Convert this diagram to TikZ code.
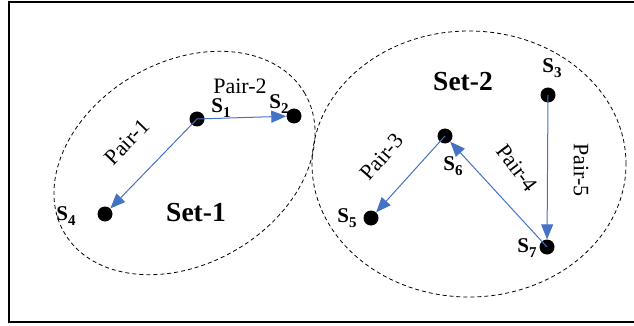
\documentclass[tikz,border=0pt]{standalone}
\usepackage{fontspec}
\setmainfont{Liberation Serif}
\usetikzlibrary{arrows.meta}
\definecolor{arrowblue}{HTML}{4472C4}
\newcommand{\slab}[1]{S\raisebox{-0.25em}{\fontsize{15}{16}\selectfont #1}}
\begin{document}
\begin{tikzpicture}[x=1pt,y=-1pt,
  dot/.style={circle,fill=black,inner sep=0pt,minimum size=15pt},
  slabel/.style={font=\fontsize{21}{23}\selectfont\bfseries,inner sep=0pt},
  pairlabel/.style={font=\fontsize{22}{24}\selectfont,inner sep=0pt},
  setlabel/.style={font=\fontsize{27.5}{30}\selectfont\bfseries,inner sep=0pt},
  setline/.style={draw=black,line width=0.8pt,dash pattern=on 4pt off 3pt},
  pairarrow/.style={draw=arrowblue,line width=1pt,-{Triangle[length=15pt,width=12pt]}}]
\useasboundingbox (0,0) rectangle (634,326);
% frame (open on the right)
\draw[line width=2.2pt] (634,2) -- (9,2) -- (9,322) -- (634,322);
% sets
\coordinate (c1) at (184.5,163);
\coordinate (c2) at (469,164);
\draw[setline,rotate around={30:(c1)}] (c1) ellipse [x radius=139pt,y radius=101pt];
\draw[setline] (c2) ellipse [x radius=157pt,y radius=133pt];
% dots
\node[dot] (s1) at (197,119) {};
\node[dot] (s2) at (294,116) {};
\node[dot] (s3) at (548,95) {};
\node[dot] (s4) at (105,214) {};
\node[dot] (s5) at (371,218) {};
\node[dot] (s6) at (445,136) {};
\node[dot] (s7) at (547,247) {};
% S labels
\node[slabel] (l1) at (221,108) {\slab{1}};
\node[slabel] (l2) at (279,104) {\slab{2}};
\node[slabel] (l3) at (552,68) {\slab{3}};
\node[slabel] (l4) at (66,216) {\slab{4}};
\node[slabel] (l5) at (347,218) {\slab{5}};
\node[slabel] (l6) at (453,166) {\slab{6}};
\node[slabel] (l7) at (527,248) {\slab{7}};
% set labels
\node[setlabel] (set1) at (196,213) {Set-1};
\node[setlabel] (set2) at (463,82) {Set-2};
% pair labels
\node[pairlabel,rotate=46] (p1) at (127,142) {Pair-1};
\node[pairlabel] (p2) at (240,86) {Pair-2};
\node[pairlabel,rotate=49] (p3) at (382,157) {Pair-3};
\node[pairlabel,rotate=-53] (p4) at (517,168) {Pair-4};
\node[pairlabel,rotate=-90] (p5) at (581,170) {Pair-5};
% arrows
\draw[pairarrow] (s1.center) -- (s4);
\draw[pairarrow] (s1.center) -- (s2);
\draw[pairarrow] (s6.center) -- (s5);
\draw[pairarrow] (s7.center) -- (s6);
\draw[pairarrow] (s3.center) -- (s7);
\end{tikzpicture}
\end{document}
